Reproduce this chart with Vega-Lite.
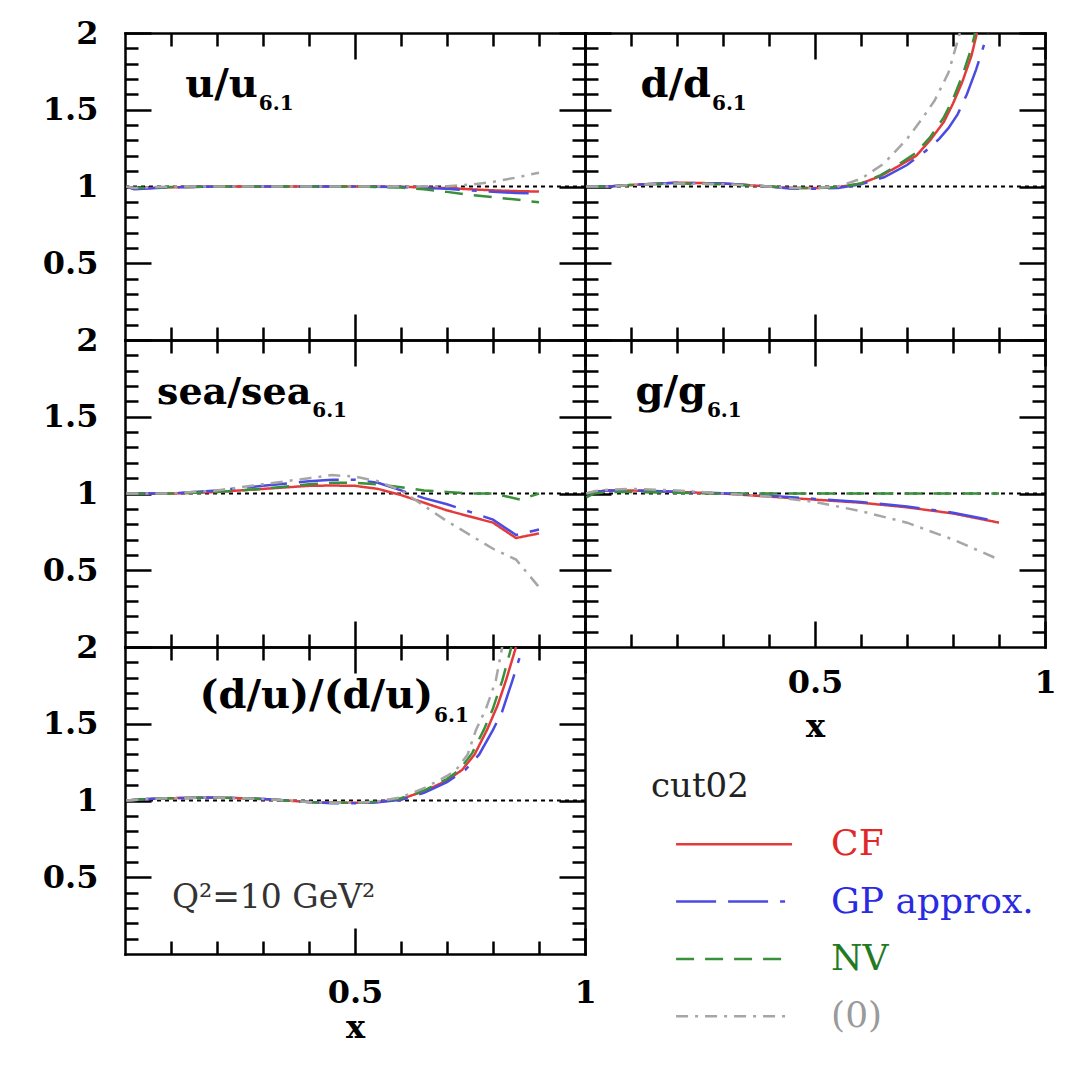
{
"$schema":"https://vega.github.io/schema/vega-lite/v6.json",
"background":"white",
"padding":{"left":42,"top":17,"right":5,"bottom":5},
"datasets":{"curves":[
{"p":"u","s":"CF","x":0.003,"y":1},{"p":"u","s":"CF","x":0.02,"y":0.985},{"p":"u","s":"CF","x":0.05,"y":0.99},{"p":"u","s":"CF","x":0.1,"y":0.995},{"p":"u","s":"CF","x":0.2,"y":1},{"p":"u","s":"CF","x":0.3,"y":1},{"p":"u","s":"CF","x":0.4,"y":1},{"p":"u","s":"CF","x":0.5,"y":1},{"p":"u","s":"CF","x":0.6,"y":0.998},{"p":"u","s":"CF","x":0.7,"y":0.99},{"p":"u","s":"CF","x":0.75,"y":0.982},{"p":"u","s":"CF","x":0.8,"y":0.975},{"p":"u","s":"CF","x":0.85,"y":0.97},{"p":"u","s":"CF","x":0.9,"y":0.967},
{"p":"u","s":"GP approx.","x":0.003,"y":1},{"p":"u","s":"GP approx.","x":0.02,"y":0.982},{"p":"u","s":"GP approx.","x":0.05,"y":0.987},{"p":"u","s":"GP approx.","x":0.1,"y":0.995},{"p":"u","s":"GP approx.","x":0.2,"y":1},{"p":"u","s":"GP approx.","x":0.3,"y":1},{"p":"u","s":"GP approx.","x":0.4,"y":1},{"p":"u","s":"GP approx.","x":0.5,"y":1},{"p":"u","s":"GP approx.","x":0.6,"y":0.997},{"p":"u","s":"GP approx.","x":0.7,"y":0.985},{"p":"u","s":"GP approx.","x":0.75,"y":0.975},{"p":"u","s":"GP approx.","x":0.8,"y":0.965},{"p":"u","s":"GP approx.","x":0.85,"y":0.958},{"p":"u","s":"GP approx.","x":0.9,"y":0.955},
{"p":"u","s":"NV","x":0.003,"y":1},{"p":"u","s":"NV","x":0.02,"y":0.99},{"p":"u","s":"NV","x":0.05,"y":0.992},{"p":"u","s":"NV","x":0.1,"y":0.996},{"p":"u","s":"NV","x":0.2,"y":1},{"p":"u","s":"NV","x":0.3,"y":1},{"p":"u","s":"NV","x":0.4,"y":1},{"p":"u","s":"NV","x":0.5,"y":1},{"p":"u","s":"NV","x":0.6,"y":0.993},{"p":"u","s":"NV","x":0.65,"y":0.982},{"p":"u","s":"NV","x":0.7,"y":0.965},{"p":"u","s":"NV","x":0.75,"y":0.945},{"p":"u","s":"NV","x":0.8,"y":0.93},{"p":"u","s":"NV","x":0.85,"y":0.915},{"p":"u","s":"NV","x":0.9,"y":0.897},
{"p":"u","s":"(0)","x":0.003,"y":1},{"p":"u","s":"(0)","x":0.02,"y":0.99},{"p":"u","s":"(0)","x":0.05,"y":0.995},{"p":"u","s":"(0)","x":0.1,"y":1},{"p":"u","s":"(0)","x":0.2,"y":1},{"p":"u","s":"(0)","x":0.3,"y":1},{"p":"u","s":"(0)","x":0.4,"y":1},{"p":"u","s":"(0)","x":0.5,"y":1},{"p":"u","s":"(0)","x":0.6,"y":1},{"p":"u","s":"(0)","x":0.7,"y":1.002},{"p":"u","s":"(0)","x":0.75,"y":1.012},{"p":"u","s":"(0)","x":0.8,"y":1.03},{"p":"u","s":"(0)","x":0.85,"y":1.058},{"p":"u","s":"(0)","x":0.9,"y":1.09},
{"p":"d","s":"CF","x":0.003,"y":1},{"p":"d","s":"CF","x":0.05,"y":1},{"p":"d","s":"CF","x":0.1,"y":1.01},{"p":"d","s":"CF","x":0.2,"y":1.025},{"p":"d","s":"CF","x":0.3,"y":1.02},{"p":"d","s":"CF","x":0.4,"y":1},{"p":"d","s":"CF","x":0.45,"y":0.99},{"p":"d","s":"CF","x":0.5,"y":0.99},{"p":"d","s":"CF","x":0.55,"y":0.995},{"p":"d","s":"CF","x":0.6,"y":1.02},{"p":"d","s":"CF","x":0.64,"y":1.065},{"p":"d","s":"CF","x":0.68,"y":1.13},{"p":"d","s":"CF","x":0.72,"y":1.2},{"p":"d","s":"CF","x":0.75,"y":1.3},{"p":"d","s":"CF","x":0.78,"y":1.42},{"p":"d","s":"CF","x":0.8,"y":1.54},{"p":"d","s":"CF","x":0.82,"y":1.68},{"p":"d","s":"CF","x":0.84,"y":1.85},{"p":"d","s":"CF","x":0.852,"y":2},
{"p":"d","s":"GP approx.","x":0.003,"y":1},{"p":"d","s":"GP approx.","x":0.05,"y":1},{"p":"d","s":"GP approx.","x":0.1,"y":1.01},{"p":"d","s":"GP approx.","x":0.2,"y":1.025},{"p":"d","s":"GP approx.","x":0.3,"y":1.02},{"p":"d","s":"GP approx.","x":0.4,"y":1},{"p":"d","s":"GP approx.","x":0.45,"y":0.985},{"p":"d","s":"GP approx.","x":0.5,"y":0.985},{"p":"d","s":"GP approx.","x":0.55,"y":0.99},{"p":"d","s":"GP approx.","x":0.6,"y":1.015},{"p":"d","s":"GP approx.","x":0.65,"y":1.06},{"p":"d","s":"GP approx.","x":0.7,"y":1.14},{"p":"d","s":"GP approx.","x":0.74,"y":1.23},{"p":"d","s":"GP approx.","x":0.77,"y":1.31},{"p":"d","s":"GP approx.","x":0.79,"y":1.38},{"p":"d","s":"GP approx.","x":0.81,"y":1.47},{"p":"d","s":"GP approx.","x":0.83,"y":1.6},{"p":"d","s":"GP approx.","x":0.85,"y":1.76},{"p":"d","s":"GP approx.","x":0.865,"y":1.9},{"p":"d","s":"GP approx.","x":0.875,"y":2},
{"p":"d","s":"NV","x":0.003,"y":1},{"p":"d","s":"NV","x":0.05,"y":1},{"p":"d","s":"NV","x":0.1,"y":1.01},{"p":"d","s":"NV","x":0.2,"y":1.02},{"p":"d","s":"NV","x":0.3,"y":1.015},{"p":"d","s":"NV","x":0.4,"y":1},{"p":"d","s":"NV","x":0.45,"y":0.99},{"p":"d","s":"NV","x":0.5,"y":0.99},{"p":"d","s":"NV","x":0.55,"y":0.995},{"p":"d","s":"NV","x":0.6,"y":1.02},{"p":"d","s":"NV","x":0.64,"y":1.07},{"p":"d","s":"NV","x":0.68,"y":1.14},{"p":"d","s":"NV","x":0.72,"y":1.22},{"p":"d","s":"NV","x":0.75,"y":1.32},{"p":"d","s":"NV","x":0.78,"y":1.45},{"p":"d","s":"NV","x":0.8,"y":1.57},{"p":"d","s":"NV","x":0.82,"y":1.72},{"p":"d","s":"NV","x":0.84,"y":1.9},{"p":"d","s":"NV","x":0.848,"y":2},
{"p":"d","s":"(0)","x":0.003,"y":1},{"p":"d","s":"(0)","x":0.05,"y":1},{"p":"d","s":"(0)","x":0.1,"y":1.01},{"p":"d","s":"(0)","x":0.2,"y":1.02},{"p":"d","s":"(0)","x":0.3,"y":1.015},{"p":"d","s":"(0)","x":0.4,"y":1},{"p":"d","s":"(0)","x":0.45,"y":0.99},{"p":"d","s":"(0)","x":0.5,"y":0.99},{"p":"d","s":"(0)","x":0.55,"y":1},{"p":"d","s":"(0)","x":0.6,"y":1.05},{"p":"d","s":"(0)","x":0.65,"y":1.15},{"p":"d","s":"(0)","x":0.7,"y":1.31},{"p":"d","s":"(0)","x":0.73,"y":1.43},{"p":"d","s":"(0)","x":0.76,"y":1.56},{"p":"d","s":"(0)","x":0.79,"y":1.74},{"p":"d","s":"(0)","x":0.815,"y":2},
{"p":"sea","s":"CF","x":0.003,"y":1},{"p":"sea","s":"CF","x":0.05,"y":1},{"p":"sea","s":"CF","x":0.1,"y":1},{"p":"sea","s":"CF","x":0.2,"y":1.01},{"p":"sea","s":"CF","x":0.3,"y":1.03},{"p":"sea","s":"CF","x":0.4,"y":1.05},{"p":"sea","s":"CF","x":0.45,"y":1.052},{"p":"sea","s":"CF","x":0.5,"y":1.05},{"p":"sea","s":"CF","x":0.55,"y":1.03},{"p":"sea","s":"CF","x":0.6,"y":0.99},{"p":"sea","s":"CF","x":0.65,"y":0.94},{"p":"sea","s":"CF","x":0.7,"y":0.89},{"p":"sea","s":"CF","x":0.75,"y":0.85},{"p":"sea","s":"CF","x":0.8,"y":0.81},{"p":"sea","s":"CF","x":0.85,"y":0.71},{"p":"sea","s":"CF","x":0.9,"y":0.74},
{"p":"sea","s":"GP approx.","x":0.003,"y":1},{"p":"sea","s":"GP approx.","x":0.05,"y":1},{"p":"sea","s":"GP approx.","x":0.1,"y":1},{"p":"sea","s":"GP approx.","x":0.2,"y":1.02},{"p":"sea","s":"GP approx.","x":0.3,"y":1.05},{"p":"sea","s":"GP approx.","x":0.4,"y":1.08},{"p":"sea","s":"GP approx.","x":0.45,"y":1.09},{"p":"sea","s":"GP approx.","x":0.5,"y":1.09},{"p":"sea","s":"GP approx.","x":0.55,"y":1.07},{"p":"sea","s":"GP approx.","x":0.6,"y":1.02},{"p":"sea","s":"GP approx.","x":0.65,"y":0.97},{"p":"sea","s":"GP approx.","x":0.7,"y":0.93},{"p":"sea","s":"GP approx.","x":0.75,"y":0.88},{"p":"sea","s":"GP approx.","x":0.8,"y":0.83},{"p":"sea","s":"GP approx.","x":0.85,"y":0.73},{"p":"sea","s":"GP approx.","x":0.9,"y":0.765},
{"p":"sea","s":"NV","x":0.003,"y":1},{"p":"sea","s":"NV","x":0.05,"y":1},{"p":"sea","s":"NV","x":0.1,"y":1},{"p":"sea","s":"NV","x":0.2,"y":1.01},{"p":"sea","s":"NV","x":0.3,"y":1.03},{"p":"sea","s":"NV","x":0.4,"y":1.06},{"p":"sea","s":"NV","x":0.45,"y":1.07},{"p":"sea","s":"NV","x":0.5,"y":1.07},{"p":"sea","s":"NV","x":0.55,"y":1.06},{"p":"sea","s":"NV","x":0.6,"y":1.04},{"p":"sea","s":"NV","x":0.65,"y":1.02},{"p":"sea","s":"NV","x":0.7,"y":1.01},{"p":"sea","s":"NV","x":0.75,"y":1},{"p":"sea","s":"NV","x":0.8,"y":1},{"p":"sea","s":"NV","x":0.83,"y":0.98},{"p":"sea","s":"NV","x":0.86,"y":0.96},{"p":"sea","s":"NV","x":0.9,"y":1},
{"p":"sea","s":"(0)","x":0.003,"y":1},{"p":"sea","s":"(0)","x":0.05,"y":1},{"p":"sea","s":"(0)","x":0.1,"y":1},{"p":"sea","s":"(0)","x":0.2,"y":1.02},{"p":"sea","s":"(0)","x":0.3,"y":1.06},{"p":"sea","s":"(0)","x":0.4,"y":1.1},{"p":"sea","s":"(0)","x":0.45,"y":1.12},{"p":"sea","s":"(0)","x":0.5,"y":1.11},{"p":"sea","s":"(0)","x":0.55,"y":1.08},{"p":"sea","s":"(0)","x":0.6,"y":1.02},{"p":"sea","s":"(0)","x":0.65,"y":0.92},{"p":"sea","s":"(0)","x":0.7,"y":0.82},{"p":"sea","s":"(0)","x":0.75,"y":0.73},{"p":"sea","s":"(0)","x":0.8,"y":0.64},{"p":"sea","s":"(0)","x":0.85,"y":0.57},{"p":"sea","s":"(0)","x":0.9,"y":0.39},
{"p":"g","s":"CF","x":0.003,"y":1},{"p":"g","s":"CF","x":0.02,"y":1.01},{"p":"g","s":"CF","x":0.05,"y":1.02},{"p":"g","s":"CF","x":0.1,"y":1.02},{"p":"g","s":"CF","x":0.2,"y":1.01},{"p":"g","s":"CF","x":0.3,"y":1},{"p":"g","s":"CF","x":0.4,"y":0.98},{"p":"g","s":"CF","x":0.5,"y":0.96},{"p":"g","s":"CF","x":0.6,"y":0.94},{"p":"g","s":"CF","x":0.7,"y":0.91},{"p":"g","s":"CF","x":0.8,"y":0.87},{"p":"g","s":"CF","x":0.9,"y":0.81},
{"p":"g","s":"GP approx.","x":0.003,"y":1},{"p":"g","s":"GP approx.","x":0.02,"y":1.01},{"p":"g","s":"GP approx.","x":0.05,"y":1.02},{"p":"g","s":"GP approx.","x":0.1,"y":1.02},{"p":"g","s":"GP approx.","x":0.2,"y":1.012},{"p":"g","s":"GP approx.","x":0.3,"y":1.002},{"p":"g","s":"GP approx.","x":0.4,"y":0.985},{"p":"g","s":"GP approx.","x":0.5,"y":0.965},{"p":"g","s":"GP approx.","x":0.6,"y":0.945},{"p":"g","s":"GP approx.","x":0.7,"y":0.915},{"p":"g","s":"GP approx.","x":0.8,"y":0.875},{"p":"g","s":"GP approx.","x":0.9,"y":0.815},
{"p":"g","s":"NV","x":0.003,"y":0.975},{"p":"g","s":"NV","x":0.02,"y":1},{"p":"g","s":"NV","x":0.05,"y":1.01},{"p":"g","s":"NV","x":0.1,"y":1.01},{"p":"g","s":"NV","x":0.2,"y":1.005},{"p":"g","s":"NV","x":0.3,"y":1},{"p":"g","s":"NV","x":0.4,"y":1},{"p":"g","s":"NV","x":0.5,"y":1},{"p":"g","s":"NV","x":0.6,"y":1},{"p":"g","s":"NV","x":0.7,"y":1},{"p":"g","s":"NV","x":0.8,"y":1},{"p":"g","s":"NV","x":0.9,"y":1},
{"p":"g","s":"(0)","x":0.003,"y":1},{"p":"g","s":"(0)","x":0.02,"y":1.015},{"p":"g","s":"(0)","x":0.05,"y":1.025},{"p":"g","s":"(0)","x":0.1,"y":1.03},{"p":"g","s":"(0)","x":0.2,"y":1.02},{"p":"g","s":"(0)","x":0.3,"y":1},{"p":"g","s":"(0)","x":0.4,"y":0.98},{"p":"g","s":"(0)","x":0.5,"y":0.945},{"p":"g","s":"(0)","x":0.6,"y":0.885},{"p":"g","s":"(0)","x":0.7,"y":0.81},{"p":"g","s":"(0)","x":0.8,"y":0.7},{"p":"g","s":"(0)","x":0.9,"y":0.57},
{"p":"du","s":"CF","x":0.003,"y":1},{"p":"du","s":"CF","x":0.05,"y":1.01},{"p":"du","s":"CF","x":0.1,"y":1.015},{"p":"du","s":"CF","x":0.2,"y":1.02},{"p":"du","s":"CF","x":0.3,"y":1.01},{"p":"du","s":"CF","x":0.4,"y":0.99},{"p":"du","s":"CF","x":0.45,"y":0.985},{"p":"du","s":"CF","x":0.5,"y":0.985},{"p":"du","s":"CF","x":0.55,"y":0.99},{"p":"du","s":"CF","x":0.6,"y":1.01},{"p":"du","s":"CF","x":0.65,"y":1.06},{"p":"du","s":"CF","x":0.7,"y":1.13},{"p":"du","s":"CF","x":0.733,"y":1.2},{"p":"du","s":"CF","x":0.76,"y":1.3},{"p":"du","s":"CF","x":0.787,"y":1.46},{"p":"du","s":"CF","x":0.81,"y":1.62},{"p":"du","s":"CF","x":0.828,"y":1.78},{"p":"du","s":"CF","x":0.85,"y":2},
{"p":"du","s":"GP approx.","x":0.003,"y":1},{"p":"du","s":"GP approx.","x":0.05,"y":1.01},{"p":"du","s":"GP approx.","x":0.1,"y":1.015},{"p":"du","s":"GP approx.","x":0.2,"y":1.02},{"p":"du","s":"GP approx.","x":0.3,"y":1.01},{"p":"du","s":"GP approx.","x":0.4,"y":0.99},{"p":"du","s":"GP approx.","x":0.45,"y":0.982},{"p":"du","s":"GP approx.","x":0.5,"y":0.982},{"p":"du","s":"GP approx.","x":0.55,"y":0.988},{"p":"du","s":"GP approx.","x":0.6,"y":1.005},{"p":"du","s":"GP approx.","x":0.65,"y":1.05},{"p":"du","s":"GP approx.","x":0.7,"y":1.12},{"p":"du","s":"GP approx.","x":0.74,"y":1.2},{"p":"du","s":"GP approx.","x":0.77,"y":1.3},{"p":"du","s":"GP approx.","x":0.8,"y":1.46},{"p":"du","s":"GP approx.","x":0.82,"y":1.58},{"p":"du","s":"GP approx.","x":0.842,"y":1.78},{"p":"du","s":"GP approx.","x":0.865,"y":2},
{"p":"du","s":"NV","x":0.003,"y":1},{"p":"du","s":"NV","x":0.05,"y":1.01},{"p":"du","s":"NV","x":0.1,"y":1.015},{"p":"du","s":"NV","x":0.2,"y":1.02},{"p":"du","s":"NV","x":0.3,"y":1.01},{"p":"du","s":"NV","x":0.4,"y":0.99},{"p":"du","s":"NV","x":0.45,"y":0.985},{"p":"du","s":"NV","x":0.5,"y":0.985},{"p":"du","s":"NV","x":0.55,"y":0.992},{"p":"du","s":"NV","x":0.6,"y":1.015},{"p":"du","s":"NV","x":0.65,"y":1.065},{"p":"du","s":"NV","x":0.7,"y":1.14},{"p":"du","s":"NV","x":0.727,"y":1.2},{"p":"du","s":"NV","x":0.755,"y":1.31},{"p":"du","s":"NV","x":0.78,"y":1.46},{"p":"du","s":"NV","x":0.8,"y":1.6},{"p":"du","s":"NV","x":0.82,"y":1.78},{"p":"du","s":"NV","x":0.84,"y":2},
{"p":"du","s":"(0)","x":0.003,"y":1},{"p":"du","s":"(0)","x":0.05,"y":1.01},{"p":"du","s":"(0)","x":0.1,"y":1.015},{"p":"du","s":"(0)","x":0.2,"y":1.02},{"p":"du","s":"(0)","x":0.3,"y":1.01},{"p":"du","s":"(0)","x":0.4,"y":0.99},{"p":"du","s":"(0)","x":0.45,"y":0.985},{"p":"du","s":"(0)","x":0.5,"y":0.985},{"p":"du","s":"(0)","x":0.55,"y":0.995},{"p":"du","s":"(0)","x":0.6,"y":1.02},{"p":"du","s":"(0)","x":0.65,"y":1.08},{"p":"du","s":"(0)","x":0.7,"y":1.16},{"p":"du","s":"(0)","x":0.72,"y":1.2},{"p":"du","s":"(0)","x":0.745,"y":1.3},{"p":"du","s":"(0)","x":0.763,"y":1.46},{"p":"du","s":"(0)","x":0.785,"y":1.6},{"p":"du","s":"(0)","x":0.806,"y":1.78},{"p":"du","s":"(0)","x":0.82,"y":2}
],
"legendrows":[{"s":"CF"},{"s":"GP approx."},{"s":"NV"},{"s":"(0)"}]
},
"concat":[
{"width":460,"height":307,"layer":[
 {"data":{"values":[{}]},"mark":{"type":"rule","color":"black","strokeWidth":2,"strokeDash":[4,4]},"encoding":{"y":{"datum":1,"type":"quantitative","axis":null}}},
 {"data":{"name":"curves"},"transform":[{"filter":"datum.p=='u'"}],"mark":{"type":"line","strokeWidth":2.5,"clip":true},"encoding":{
  "x":{"field":"x","type":"quantitative","scale":{"domain":[0,1]},"axis":{"orient":"bottom","values":[0.1,0.2,0.3,0.4,0.5,0.6,0.7,0.8,0.9,1],"tickSize":{"condition":{"test":"abs(datum.value*2-round(datum.value*2))<0.001","value":-26},"value":-13},"labels":false,"title":null}},
  "y":{"field":"y","type":"quantitative","scale":{"domain":[0,2]},"axis":{"orient":"left","values":[0.1,0.2,0.3,0.4,0.5,0.6,0.7,0.8,0.9,1,1.1,1.2,1.3,1.4,1.5,1.6,1.7,1.8,1.9,2],"tickSize":{"condition":{"test":"abs(datum.value*2-round(datum.value*2))<0.001","value":-26},"value":-13},"labelExpr":"(abs(datum.value*2-round(datum.value*2))<0.001)?format(datum.value,'~g'):''","labelPadding":53,"title":null}},
  "color":{"field":"s","type":"nominal","scale":{"domain":["CF","GP approx.","NV","(0)"],"range":["#e33b3b","#4b4be0","#3a8f3a","#a6a6a6"]},"legend":null},
  "strokeDash":{"field":"s","type":"nominal","scale":{"domain":["CF","GP approx.","NV","(0)"],"range":[[1,0],[40,12,40,12,5,12],[18,11],[12,7,3,7]]},"legend":null}}},
 {"data":{"values":[{}]},"mark":{"type":"text","font":"DejaVu Serif","fontSize":40,"fontWeight":"bold","align":"right","baseline":"alphabetic","color":"black"},"encoding":{
  "x":{"datum":0.289,"type":"quantitative","axis":{"orient":"top","values":[0.1,0.2,0.3,0.4,0.5,0.6,0.7,0.8,0.9,1],"tickSize":{"condition":{"test":"abs(datum.value*2-round(datum.value*2))<0.001","value":-26},"value":-13},"labels":false,"title":null}},
  "y":{"datum":1.585,"type":"quantitative","axis":{"orient":"right","values":[0.1,0.2,0.3,0.4,0.5,0.6,0.7,0.8,0.9,1,1.1,1.2,1.3,1.4,1.5,1.6,1.7,1.8,1.9,2],"tickSize":{"condition":{"test":"abs(datum.value*2-round(datum.value*2))<0.001","value":-26},"value":-13},"labels":false,"title":null}},
  "text":{"value":"u/u"}}},
 {"data":{"values":[{}]},"mark":{"type":"text","font":"DejaVu Serif","fontSize":20,"fontWeight":"bold","align":"left","baseline":"alphabetic","color":"black"},"encoding":{"x":{"datum":0.291,"type":"quantitative","axis":null},"y":{"datum":1.5,"type":"quantitative","axis":null},"text":{"value":"6.1"}}}
],"resolve":{"axis":{"x":"independent","y":"independent"}}},

{"width":460,"height":307,"layer":[
 {"data":{"values":[{}]},"mark":{"type":"rule","color":"black","strokeWidth":2,"strokeDash":[4,4]},"encoding":{"y":{"datum":1,"type":"quantitative","axis":null}}},
 {"data":{"name":"curves"},"transform":[{"filter":"datum.p=='d'"}],"mark":{"type":"line","strokeWidth":2.5,"clip":true},"encoding":{
  "x":{"field":"x","type":"quantitative","scale":{"domain":[0,1]},"axis":{"orient":"bottom","values":[0.1,0.2,0.3,0.4,0.5,0.6,0.7,0.8,0.9,1],"tickSize":{"condition":{"test":"abs(datum.value*2-round(datum.value*2))<0.001","value":-26},"value":-13},"labels":false,"title":null}},
  "y":{"field":"y","type":"quantitative","scale":{"domain":[0,2]},"axis":{"orient":"left","values":[0.1,0.2,0.3,0.4,0.5,0.6,0.7,0.8,0.9,1,1.1,1.2,1.3,1.4,1.5,1.6,1.7,1.8,1.9,2],"tickSize":{"condition":{"test":"abs(datum.value*2-round(datum.value*2))<0.001","value":-26},"value":-13},"labels":false,"title":null}},
  "color":{"field":"s","type":"nominal","scale":{"domain":["CF","GP approx.","NV","(0)"],"range":["#e33b3b","#4b4be0","#3a8f3a","#a6a6a6"]},"legend":null},
  "strokeDash":{"field":"s","type":"nominal","scale":{"domain":["CF","GP approx.","NV","(0)"],"range":[[1,0],[40,12,40,12,5,12],[18,11],[12,7,3,7]]},"legend":null}}},
 {"data":{"values":[{}]},"mark":{"type":"text","font":"DejaVu Serif","fontSize":40,"fontWeight":"bold","align":"right","baseline":"alphabetic","color":"black"},"encoding":{
  "x":{"datum":0.274,"type":"quantitative","axis":{"orient":"top","values":[0.1,0.2,0.3,0.4,0.5,0.6,0.7,0.8,0.9,1],"tickSize":{"condition":{"test":"abs(datum.value*2-round(datum.value*2))<0.001","value":-26},"value":-13},"labels":false,"title":null}},
  "y":{"datum":1.585,"type":"quantitative","axis":{"orient":"right","values":[0.1,0.2,0.3,0.4,0.5,0.6,0.7,0.8,0.9,1,1.1,1.2,1.3,1.4,1.5,1.6,1.7,1.8,1.9,2],"tickSize":{"condition":{"test":"abs(datum.value*2-round(datum.value*2))<0.001","value":-26},"value":-13},"labels":false,"title":null}},
  "text":{"value":"d/d"}}},
 {"data":{"values":[{}]},"mark":{"type":"text","font":"DejaVu Serif","fontSize":20,"fontWeight":"bold","align":"left","baseline":"alphabetic","color":"black"},"encoding":{"x":{"datum":0.276,"type":"quantitative","axis":null},"y":{"datum":1.5,"type":"quantitative","axis":null},"text":{"value":"6.1"}}}
],"resolve":{"axis":{"x":"independent","y":"independent"}}},

{"width":460,"height":307,"layer":[
 {"data":{"values":[{}]},"mark":{"type":"rule","color":"black","strokeWidth":2,"strokeDash":[4,4]},"encoding":{"y":{"datum":1,"type":"quantitative","axis":null}}},
 {"data":{"name":"curves"},"transform":[{"filter":"datum.p=='sea'"}],"mark":{"type":"line","strokeWidth":2.5,"clip":true},"encoding":{
  "x":{"field":"x","type":"quantitative","scale":{"domain":[0,1]},"axis":{"orient":"bottom","values":[0.1,0.2,0.3,0.4,0.5,0.6,0.7,0.8,0.9,1],"tickSize":{"condition":{"test":"abs(datum.value*2-round(datum.value*2))<0.001","value":-26},"value":-13},"labels":false,"title":null}},
  "y":{"field":"y","type":"quantitative","scale":{"domain":[0,2]},"axis":{"orient":"left","values":[0.1,0.2,0.3,0.4,0.5,0.6,0.7,0.8,0.9,1,1.1,1.2,1.3,1.4,1.5,1.6,1.7,1.8,1.9,2],"tickSize":{"condition":{"test":"abs(datum.value*2-round(datum.value*2))<0.001","value":-26},"value":-13},"labelExpr":"(abs(datum.value*2-round(datum.value*2))<0.001)?format(datum.value,'~g'):''","labelPadding":53,"title":null}},
  "color":{"field":"s","type":"nominal","scale":{"domain":["CF","GP approx.","NV","(0)"],"range":["#e33b3b","#4b4be0","#3a8f3a","#a6a6a6"]},"legend":null},
  "strokeDash":{"field":"s","type":"nominal","scale":{"domain":["CF","GP approx.","NV","(0)"],"range":[[1,0],[40,12,40,12,5,12],[18,11],[12,7,3,7]]},"legend":null}}},
 {"data":{"values":[{}]},"mark":{"type":"text","font":"DejaVu Serif","fontSize":38,"fontWeight":"bold","align":"right","baseline":"alphabetic","color":"black"},"encoding":{
  "x":{"datum":0.405,"type":"quantitative","axis":{"orient":"top","values":[0.1,0.2,0.3,0.4,0.5,0.6,0.7,0.8,0.9,1],"tickSize":{"condition":{"test":"abs(datum.value*2-round(datum.value*2))<0.001","value":-26},"value":-13},"labels":false,"title":null}},
  "y":{"datum":1.585,"type":"quantitative","axis":{"orient":"right","values":[0.1,0.2,0.3,0.4,0.5,0.6,0.7,0.8,0.9,1,1.1,1.2,1.3,1.4,1.5,1.6,1.7,1.8,1.9,2],"tickSize":{"condition":{"test":"abs(datum.value*2-round(datum.value*2))<0.001","value":-26},"value":-13},"labels":false,"title":null}},
  "text":{"value":"sea/sea"}}},
 {"data":{"values":[{}]},"mark":{"type":"text","font":"DejaVu Serif","fontSize":20,"fontWeight":"bold","align":"left","baseline":"alphabetic","color":"black"},"encoding":{"x":{"datum":0.407,"type":"quantitative","axis":null},"y":{"datum":1.5,"type":"quantitative","axis":null},"text":{"value":"6.1"}}}
],"resolve":{"axis":{"x":"independent","y":"independent"}}},

{"width":460,"height":307,"layer":[
 {"data":{"values":[{}]},"mark":{"type":"rule","color":"black","strokeWidth":2,"strokeDash":[4,4]},"encoding":{"y":{"datum":1,"type":"quantitative","axis":null}}},
 {"data":{"name":"curves"},"transform":[{"filter":"datum.p=='g'"}],"mark":{"type":"line","strokeWidth":2.5,"clip":true},"encoding":{
  "x":{"field":"x","type":"quantitative","scale":{"domain":[0,1]},"axis":{"orient":"bottom","values":[0.1,0.2,0.3,0.4,0.5,0.6,0.7,0.8,0.9,1],"tickSize":{"condition":{"test":"abs(datum.value*2-round(datum.value*2))<0.001","value":-26},"value":-13},"labelExpr":"(datum.value==0.5||datum.value==1)?format(datum.value,'~g'):''","labelPadding":46,"title":"x","titlePadding":0}},
  "y":{"field":"y","type":"quantitative","scale":{"domain":[0,2]},"axis":{"orient":"left","values":[0.1,0.2,0.3,0.4,0.5,0.6,0.7,0.8,0.9,1,1.1,1.2,1.3,1.4,1.5,1.6,1.7,1.8,1.9,2],"tickSize":{"condition":{"test":"abs(datum.value*2-round(datum.value*2))<0.001","value":-26},"value":-13},"labels":false,"title":null}},
  "color":{"field":"s","type":"nominal","scale":{"domain":["CF","GP approx.","NV","(0)"],"range":["#e33b3b","#4b4be0","#3a8f3a","#a6a6a6"]},"legend":null},
  "strokeDash":{"field":"s","type":"nominal","scale":{"domain":["CF","GP approx.","NV","(0)"],"range":[[1,0],[40,12,40,12,5,12],[18,11],[12,7,3,7]]},"legend":null}}},
 {"data":{"values":[{}]},"mark":{"type":"text","font":"DejaVu Serif","fontSize":40,"fontWeight":"bold","align":"right","baseline":"alphabetic","color":"black"},"encoding":{
  "x":{"datum":0.263,"type":"quantitative","axis":{"orient":"top","values":[0.1,0.2,0.3,0.4,0.5,0.6,0.7,0.8,0.9,1],"tickSize":{"condition":{"test":"abs(datum.value*2-round(datum.value*2))<0.001","value":-26},"value":-13},"labels":false,"title":null}},
  "y":{"datum":1.585,"type":"quantitative","axis":{"orient":"right","values":[0.1,0.2,0.3,0.4,0.5,0.6,0.7,0.8,0.9,1,1.1,1.2,1.3,1.4,1.5,1.6,1.7,1.8,1.9,2],"tickSize":{"condition":{"test":"abs(datum.value*2-round(datum.value*2))<0.001","value":-26},"value":-13},"labels":false,"title":null}},
  "text":{"value":"g/g"}}},
 {"data":{"values":[{}]},"mark":{"type":"text","font":"DejaVu Serif","fontSize":20,"fontWeight":"bold","align":"left","baseline":"alphabetic","color":"black"},"encoding":{"x":{"datum":0.265,"type":"quantitative","axis":null},"y":{"datum":1.5,"type":"quantitative","axis":null},"text":{"value":"6.1"}}}
],"resolve":{"axis":{"x":"independent","y":"independent"}}},

{"width":460,"height":307,"layer":[
 {"data":{"values":[{}]},"mark":{"type":"rule","color":"black","strokeWidth":2,"strokeDash":[4,4]},"encoding":{"y":{"datum":1,"type":"quantitative","axis":null}}},
 {"data":{"name":"curves"},"transform":[{"filter":"datum.p=='du'"}],"mark":{"type":"line","strokeWidth":2.5,"clip":true},"encoding":{
  "x":{"field":"x","type":"quantitative","scale":{"domain":[0,1]},"axis":{"orient":"bottom","values":[0.1,0.2,0.3,0.4,0.5,0.6,0.7,0.8,0.9,1],"tickSize":{"condition":{"test":"abs(datum.value*2-round(datum.value*2))<0.001","value":-26},"value":-13},"labelExpr":"(datum.value==0.5||datum.value==1)?format(datum.value,'~g'):''","labelPadding":49,"title":"x","titlePadding":-9}},
  "y":{"field":"y","type":"quantitative","scale":{"domain":[0,2]},"axis":{"orient":"left","values":[0.1,0.2,0.3,0.4,0.5,0.6,0.7,0.8,0.9,1,1.1,1.2,1.3,1.4,1.5,1.6,1.7,1.8,1.9,2],"tickSize":{"condition":{"test":"abs(datum.value*2-round(datum.value*2))<0.001","value":-26},"value":-13},"labelExpr":"(abs(datum.value*2-round(datum.value*2))<0.001)?format(datum.value,'~g'):''","labelPadding":53,"title":null}},
  "color":{"field":"s","type":"nominal","scale":{"domain":["CF","GP approx.","NV","(0)"],"range":["#e33b3b","#4b4be0","#3a8f3a","#a6a6a6"]},"legend":null},
  "strokeDash":{"field":"s","type":"nominal","scale":{"domain":["CF","GP approx.","NV","(0)"],"range":[[1,0],[40,12,40,12,5,12],[18,11],[12,7,3,7]]},"legend":null}}},
 {"data":{"values":[{}]},"mark":{"type":"text","font":"DejaVu Serif","fontSize":40,"fontWeight":"bold","align":"right","baseline":"alphabetic","color":"black"},"encoding":{
  "x":{"datum":0.67,"type":"quantitative","axis":{"orient":"top","values":[0.1,0.2,0.3,0.4,0.5,0.6,0.7,0.8,0.9,1],"tickSize":{"condition":{"test":"abs(datum.value*2-round(datum.value*2))<0.001","value":-26},"value":-13},"labels":false,"title":null}},
  "y":{"datum":1.6,"type":"quantitative","axis":{"orient":"right","values":[0.1,0.2,0.3,0.4,0.5,0.6,0.7,0.8,0.9,1,1.1,1.2,1.3,1.4,1.5,1.6,1.7,1.8,1.9,2],"tickSize":{"condition":{"test":"abs(datum.value*2-round(datum.value*2))<0.001","value":-26},"value":-13},"labels":false,"title":null}},
  "text":{"value":"(d/u)/(d/u)"}}},
 {"data":{"values":[{}]},"mark":{"type":"text","font":"DejaVu Serif","fontSize":20,"fontWeight":"bold","align":"left","baseline":"alphabetic","color":"black"},"encoding":{"x":{"datum":0.672,"type":"quantitative","axis":null},"y":{"datum":1.51,"type":"quantitative","axis":null},"text":{"value":"6.1"}}},
 {"data":{"values":[{}]},"mark":{"type":"text","font":"DejaVu Serif","fontSize":33,"align":"left","baseline":"alphabetic","color":"#333333"},"encoding":{"x":{"datum":0.102,"type":"quantitative","axis":null},"y":{"datum":0.3,"type":"quantitative","axis":null},"text":{"value":"Q²=10 GeV²"}}}
],"resolve":{"axis":{"x":"independent","y":"independent"}}},

{"width":460,"height":400,"layer":[
 {"data":{"name":"legendrows"},"mark":{"type":"rule","strokeWidth":2.5},"encoding":{
  "x":{"datum":0.198,"type":"quantitative","scale":{"domain":[0,1]},"axis":null},
  "x2":{"datum":0.45},
  "y":{"field":"s","type":"nominal","scale":{"type":"band","domain":["cut02","CF","GP approx.","NV","(0)"],"paddingInner":0,"paddingOuter":0.99,"align":0.981},"axis":null},
  "color":{"field":"s","type":"nominal","scale":{"domain":["CF","GP approx.","NV","(0)"],"range":["#e33b3b","#4b4be0","#3a8f3a","#a6a6a6"]},"legend":null},
  "strokeDash":{"field":"s","type":"nominal","scale":{"domain":["CF","GP approx.","NV","(0)"],"range":[[1,0],[40,12,40,12,5,12],[18,11],[12,7,3,7]]},"legend":null}}},
 {"data":{"name":"legendrows"},"mark":{"type":"text","font":"DejaVu Serif","fontSize":36,"align":"left","baseline":"middle"},"encoding":{
  "x":{"datum":0.535,"type":"quantitative","axis":null},
  "y":{"field":"s","type":"nominal","axis":null},
  "text":{"field":"s"},
  "fill":{"field":"s","type":"nominal","scale":{"domain":["CF","GP approx.","NV","(0)"],"range":["#e02828","#2a2ae0","#237a23","#9a9a9a"]},"legend":null}}},
 {"data":{"values":[{}]},"mark":{"type":"text","font":"DejaVu Serif","fontSize":34,"align":"left","baseline":"middle","color":"#222222"},"encoding":{
  "x":{"datum":0.1435,"type":"quantitative","axis":null},
  "y":{"datum":"cut02","type":"nominal","axis":null},
  "text":{"value":"cut02"}}}
],"resolve":{"scale":{"color":"independent","fill":"independent"}}}
],
"columns":2,
"spacing":0,
"bounds":"flush",
"config":{
 "view":{"stroke":null},
 "axis":{"domainColor":"black","domainWidth":2.5,"domainCap":"square","tickColor":"black","tickWidth":2.5,"labelFont":"DejaVu Serif","labelFontSize":32,"labelFontWeight":"bold","labelColor":"black","grid":false,"labelOverlap":false,"labelFlush":false,"titleFont":"DejaVu Serif","titleFontSize":32,"titleFontWeight":"bold","titleColor":"black"}
}
}
